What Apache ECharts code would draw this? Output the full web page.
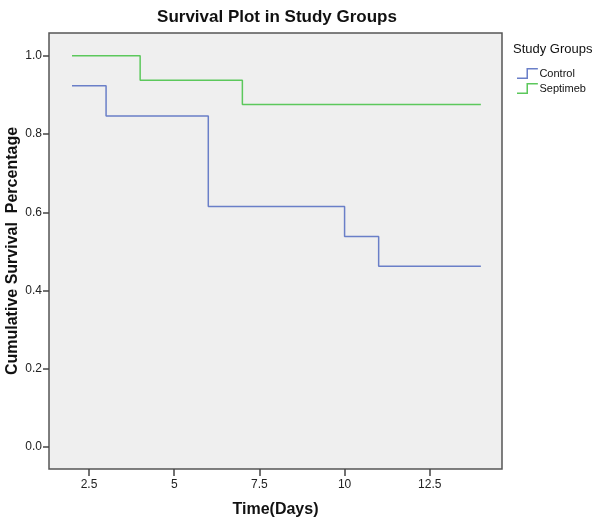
<!DOCTYPE html>
<html>
<head>
<meta charset="utf-8">
<script src="https://cdn.jsdelivr.net/npm/echarts@6/dist/echarts.min.js"></script>
<style>html,body{margin:0;padding:0;background:#fff}#c{width:600px;height:524px}</style>
</head>
<body>
<div id="c"></div>
<script>
var titleText = 'Survival Plot in Study Groups';
var xName = 'Time(Days)';
var yName = 'Cumulative Survival  Percentage';
var legendTitle = 'Study Groups';
var seriesNames = ['Control', 'Septimeb'];
var controlTimes = [2, 3, 6, 10, 11, 14];
var controlValues = [0.923, 0.846, 0.615, 0.538, 0.462, 0.462];
var septimebTimes = [2, 4, 7, 14];
var septimebValues = [1.0, 0.9375, 0.875, 0.875];
var xTicks = [2.5, 5, 7.5, 10, 12.5];
var yTicks = [0, 0.2, 0.4, 0.6, 0.8, 1.0];

function pairs(t, v) { return t.map(function (x, i) { return [x, v[i]]; }); }
var stepIcon = 'path://M0,10 L10,10 L10,0 L22,0 L22,1.6 L11.6,1.6 L11.6,11.6 L0,11.6 Z';
var font = '"Liberation Sans", Arial, sans-serif';

var chart = echarts.init(document.getElementById('c'));
chart.setOption({
  animation: false,
  title: [
    { text: titleText, left: 272, top: 4, textAlign: 'center',
      textStyle: { fontFamily: font, fontSize: 17, fontWeight: 'bold', color: '#111' } },
    { text: legendTitle, left: 508, top: 38,
      textStyle: { fontFamily: font, fontSize: 13, fontWeight: 'normal', color: '#111' } }
  ],
  legend: {
    orient: 'vertical', left: 512, top: 63, itemGap: 4, itemWidth: 22, itemHeight: 11,
    data: seriesNames.map(function (n) { return { name: n, icon: stepIcon }; }),
    textStyle: { fontFamily: font, fontSize: 11, color: '#111', padding: [0, 0, 0, -4] }
  },
  grid: { left: 49, right: 98, top: 33, bottom: 55, show: true, outerBoundsMode: 'none',
    backgroundColor: '#efefef', borderColor: '#555', borderWidth: 1.5 },
  xAxis: {
    type: 'value', min: 1.325, max: 14.62,
    name: xName, nameLocation: 'middle', nameGap: 33, nameMoveOverlap: false,
    nameTextStyle: { fontFamily: font, fontSize: 16, fontWeight: 'bold', color: '#111' },
    axisLine: { show: false, onZero: false },
    splitLine: { show: false },
    axisTick: { show: true, inside: false, length: 7, customValues: xTicks, lineStyle: { color: '#444', width: 1.5 } },
    axisLabel: { customValues: xTicks, fontFamily: font, fontSize: 12, color: '#222', margin: 10,
      formatter: function (v) { return String(v); } }
  },
  yAxis: {
    type: 'value', min: -0.056, max: 1.058,
    name: yName, nameLocation: 'middle', nameGap: 28, nameRotate: 90, nameMoveOverlap: false,
    nameTextStyle: { fontFamily: font, fontSize: 16, fontWeight: 'bold', color: '#111' },
    axisLine: { show: false, onZero: false },
    splitLine: { show: false },
    axisTick: { show: true, inside: false, length: 6, customValues: yTicks, lineStyle: { color: '#444', width: 1.5 } },
    axisLabel: { customValues: yTicks, fontFamily: font, fontSize: 12, color: '#222', margin: 7,
      formatter: function (v) { return v.toFixed(1); } }
  },
  series: [
    { name: seriesNames[0], type: 'line', step: 'end', symbol: 'none',
      data: pairs(controlTimes, controlValues),
      itemStyle: { color: '#6a7fc8' }, lineStyle: { color: '#6a7fc8', width: 1.5 } },
    { name: seriesNames[1], type: 'line', step: 'end', symbol: 'none',
      data: pairs(septimebTimes, septimebValues),
      itemStyle: { color: '#5cc85c' }, lineStyle: { color: '#5cc85c', width: 1.5 } }
  ]
});
</script>
</body>
</html>
